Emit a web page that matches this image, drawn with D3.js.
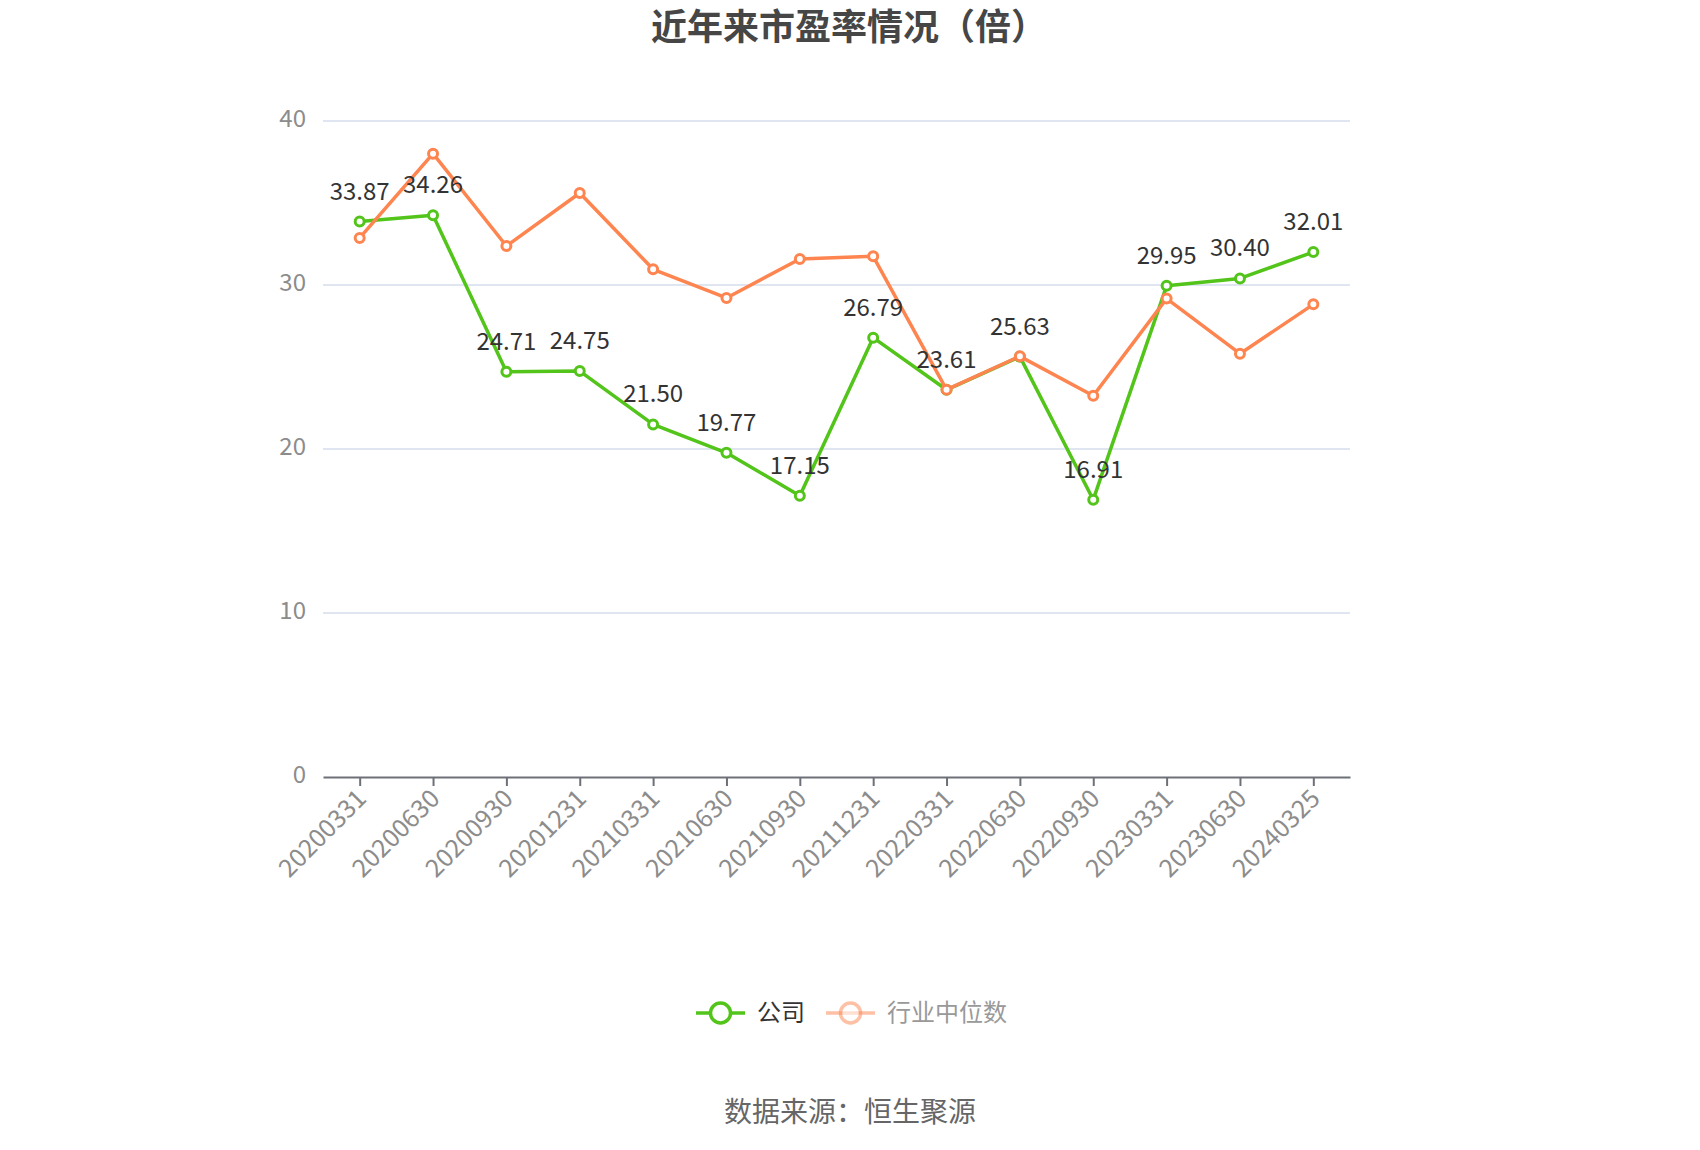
<!DOCTYPE html>
<html>
<head>
  <meta charset="utf-8">
  <script src="https://d3js.org/d3.v7.min.js"></script>
  <style>
    body { margin: 0; background: #ffffff; }
    text { font-family: 'Noto Sans CJK SC', 'Noto Sans', sans-serif; }
  </style>
</head>
<body>
  <div id="chart"></div>
  <script>
    // data
    var dates = ["20200331", "20200630", "20200930", "20201231", "20210331", "20210630", "20210930",
      "20211231", "20220331", "20220630", "20220930", "20230331", "20230630", "20240325"];
    var company = [33.87, 34.26, 24.71, 24.75, 21.50, 19.77, 17.15, 26.79, 23.61, 25.63, 16.91, 29.95, 30.40, 32.01];
    var industry = [32.87, 38.01, 32.38, 35.61, 30.96, 29.21, 31.59, 31.75, 23.62, 25.65, 23.25, 29.17, 25.81, 28.82];
    var yTicks = [0, 10, 20, 30, 40];

    var width = 1700, height = 1150;
    var plotLeft = 323, plotRight = 1350, plotTop = 121, plotBottom = 777;
    var green = "#52c41a", orange = "#fe8550";

    var svg = d3.select("#chart").append("svg")
      .attr("width", width)
      .attr("height", height);

    var x = d3.scalePoint().domain(dates).range([plotLeft, plotRight]).padding(0.5);
    var y = d3.scaleLinear().domain([0, 40]).range([plotBottom, plotTop]);

    // title
    svg.append("text")
      .attr("x", 849).attr("y", 27)
      .attr("dy", "0.35em")
      .attr("text-anchor", "middle")
      .style("font-size", "36px")
      .style("font-weight", "bold")
      .style("fill", "#464646")
      .text("近年来市盈率情况（倍）");

    // grid
    svg.append("g").selectAll("line")
      .data(yTicks.filter(function (d) { return d > 0; }))
      .enter().append("line")
      .attr("x1", plotLeft).attr("x2", plotRight)
      .attr("y1", function (d) { return y(d); })
      .attr("y2", function (d) { return y(d); })
      .style("stroke", "#e0e6f1")
      .style("stroke-width", 2);

    // y labels
    svg.append("g").selectAll("text")
      .data(yTicks)
      .enter().append("text")
      .attr("x", 306)
      .attr("y", function (d) { return y(d) - 2; })
      .attr("dy", "0.35em")
      .attr("text-anchor", "end")
      .style("font-size", "24px")
      .style("fill", "#8c8c8c")
      .text(function (d) { return d; });

    // x axis
    var xAxis = svg.append("g")
      .attr("transform", "translate(0," + plotBottom + ")")
      .call(d3.axisBottom(x).tickSize(9).tickSizeOuter(0).tickFormat(""));
    xAxis.select(".domain").style("stroke", "#6e7079").style("stroke-width", 2);
    xAxis.selectAll(".tick line").style("stroke", "#6e7079").style("stroke-width", 2);

    svg.append("g").selectAll("text")
      .data(dates)
      .enter().append("text")
      .attr("transform", function (d) { return "translate(" + (x(d) + 2) + "," + (plotBottom + 17) + ") rotate(-45)"; })
      .attr("dy", "0.35em")
      .attr("text-anchor", "end")
      .style("font-size", "25px")
      .style("fill", "#8c8c8c")
      .text(function (d) { return d; });

    var line = d3.line()
      .x(function (d, i) { return x(dates[i]); })
      .y(function (d) { return y(d); });

    function drawSeries(values, colour) {
      var g = svg.append("g");
      g.append("path")
        .datum(values)
        .attr("d", line)
        .style("fill", "none")
        .style("stroke", colour)
        .style("stroke-width", 3.5)
        .style("stroke-linejoin", "round");
      g.selectAll("circle")
        .data(values)
        .enter().append("circle")
        .attr("cx", function (d, i) { return x(dates[i]); })
        .attr("cy", function (d) { return y(d); })
        .attr("r", 4.5)
        .style("fill", "#fff")
        .style("stroke", colour)
        .style("stroke-width", 3);
    }

    drawSeries(company, green);
    drawSeries(industry, orange);

    // labels on company series
    svg.append("g").selectAll("text")
      .data(company)
      .enter().append("text")
      .attr("x", function (d, i) { return x(dates[i]); })
      .attr("y", function (d) { return y(d) - 22; })
      .attr("text-anchor", "middle")
      .style("font-size", "24px")
      .style("fill", "#333")
      .text(function (d) { return d.toFixed(2); });

    // legend
    var legend = [
      { name: "公司", colour: green, x: 696, opacity: 1, textColour: "#333" },
      { name: "行业中位数", colour: orange, x: 826, opacity: 0.5, textColour: "#999" }
    ];
    var lg = svg.append("g").selectAll("g")
      .data(legend)
      .enter().append("g")
      .attr("transform", function (d) { return "translate(" + d.x + ",1013)"; });
    lg.append("line")
      .attr("x1", 0).attr("x2", 49)
      .style("stroke", function (d) { return d.colour; })
      .style("stroke-width", 3.5)
      .style("opacity", function (d) { return d.opacity; });
    lg.append("circle")
      .attr("cx", 24.5).attr("r", 10)
      .style("fill", "#fff")
      .style("stroke", function (d) { return d.colour; })
      .style("stroke-width", 3.5)
      .style("opacity", function (d) { return d.opacity; });
    lg.append("text")
      .attr("x", 61)
      .attr("dy", "0.35em")
      .style("font-size", "24px")
      .style("fill", function (d) { return d.textColour; })
      .text(function (d) { return d.name; });

    // source
    svg.append("text")
      .attr("x", 850).attr("y", 1112)
      .attr("dy", "0.35em")
      .attr("text-anchor", "middle")
      .style("font-size", "28px")
      .style("fill", "#666")
      .text("数据来源：恒生聚源");
  </script>
</body>
</html>
